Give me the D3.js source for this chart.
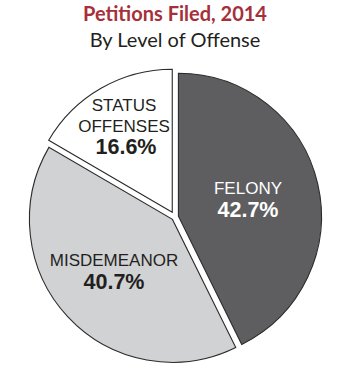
<!DOCTYPE html>
<html><head><meta charset="utf-8">
<script src="https://cdn.jsdelivr.net/npm/d3@7"></script>
<style>body{margin:0;background:#fff}svg{display:block}</style>
</head><body>
<script>
const categories = ["FELONY", "MISDEMEANOR", "STATUS OFFENSES"];
const values = [42.7, 40.7, 16.6];
const labelLines = [["FELONY"], ["MISDEMEANOR"], ["STATUS", "OFFENSES"]];
const valueLabels = ["42.7%", "40.7%", "16.6%"];
const fills = ["#5e5e60", "#d1d2d4", "#ffffff"];
const textColors = ["#ffffff", "#231f20", "#231f20"];
const explode = [3.5, 3.5, 5.5];
const labelPos = [[248, 194], [114, 266], [124, 110.7]];

const W = 350, H = 374;
const svg = d3.select("body").append("svg").attr("width", W).attr("height", H);

svg.append("text").attr("x", 175).attr("y", 20.7).attr("text-anchor", "middle")
  .attr("font-family", "Lato, 'Open Sans', sans-serif").attr("font-weight", "bold")
  .attr("font-size", 20).attr("fill", "#a5303a").text("Petitions Filed, 2014");
svg.append("text").attr("x", 175).attr("y", 46.7).attr("text-anchor", "middle")
  .attr("font-family", "Lato, 'Open Sans', sans-serif")
  .attr("font-size", 20).attr("fill", "#231f20").text("By Level of Offense");

const cx = 175, cy = 217, R = 143;
const pie = d3.pie().sort(null).value(d => d)(values);
const arc = d3.arc().innerRadius(0).outerRadius(R);

const g = svg.append("g").attr("transform", `translate(${cx},${cy})`);
g.selectAll("path").data(pie).join("path")
  .attr("d", arc)
  .attr("transform", (d, i) => {
    const a = (d.startAngle + d.endAngle) / 2;
    return `translate(${Math.sin(a) * explode[i]},${-Math.cos(a) * explode[i]})`;
  })
  .attr("fill", (d, i) => fills[i])
  .attr("stroke", "#2b2b2b").attr("stroke-width", 1.1).attr("stroke-linejoin", "miter");

labelLines.forEach((lines, i) => {
  const [x, y] = labelPos[i];
  lines.forEach((t, j) => {
    svg.append("text").attr("x", x).attr("y", y + j * 21).attr("text-anchor", "middle")
      .attr("font-family", "'Liberation Sans', Arial, sans-serif").attr("font-size", 17)
      .attr("fill", textColors[i]).text(t);
  });
  svg.append("text").attr("x", x + (i === 2 ? 2 : 0)).attr("y", y + lines.length * 21 + 1.5)
    .attr("text-anchor", "middle")
    .attr("font-family", "'Liberation Sans', Arial, sans-serif").attr("font-weight", "bold")
    .attr("font-size", 21.5).attr("fill", textColors[i]).text(valueLabels[i]);
});
</script>
</body></html>
